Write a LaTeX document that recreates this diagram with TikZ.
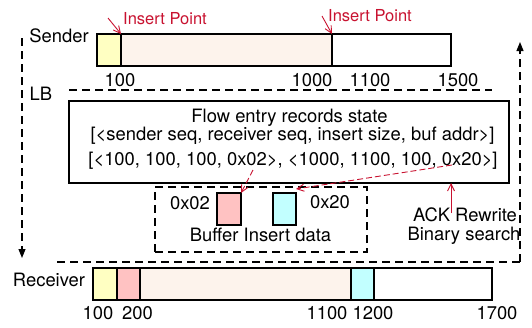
\documentclass[tikz,border=0pt]{standalone}
\usepackage{fontspec}
\setmainfont{TeX Gyre Heros}
\usepackage{xcolor}
\usepackage{tikz}
\usetikzlibrary{arrows.meta, positioning}
\definecolor{cellyellow}{RGB}{255,255,194}
\definecolor{cellpeach}{RGB}{253,243,236}
\definecolor{cellpink}{RGB}{255,194,194}
\definecolor{cellcyan}{RGB}{194,255,255}
\definecolor{markred}{RGB}{200,18,48}

\begin{document}
\begin{tikzpicture}[
        x=1pt, y=-1pt,
        every node/.style={font=\fontsize{18.4}{21}\selectfont},
        cell/.style={draw,line width=1.1pt,inner sep=0pt,outer sep=0pt,minimum height=32pt},
        box/.style={draw,line width=1.1pt,inner sep=0pt,outer sep=0pt},
        lbline/.style={line width=1.1pt,dash pattern=on 8pt off 5pt},
        hop/.style={lbline,-{Triangle[length=9pt,width=7pt]}},
        redarrow/.style={markred,line width=0.9pt,-{Straight Barb[length=7pt,width=7pt]}},
        reddash/.style={redarrow,dash pattern=on 6pt off 3pt},
        redtext/.style={text=markred,font=\fontsize{16.5}{19}\selectfont}
    ]
        \useasboundingbox (0,0) rectangle (532,327);

        % sender byte stream
        \node at (59,36) (sender) {Sender};
        \node[cell,fill=cellyellow,minimum width=24pt,anchor=north west] at (97,34) (s1) {};
        \node[cell,fill=cellpeach,minimum width=211pt,right=0pt of s1] (s2) {};
        \node[cell,fill=white,minimum width=119pt,right=0pt of s2] (s3) {};
        \node at (120,80) (s100) {100};
        \node at (312,80) (s1000) {1000};
        \node at (370,80) (s1100) {1100};
        \node at (458,80) (s1500) {1500};

        \node[redtext] at (165,19) (ins1) {Insert Point};
        \node[redtext] at (370,15.5) (ins2) {Insert Point};
        \coordinate (ins1tail) at (108,18);
        \coordinate (ins2tail) at (322,16);
        \draw[redarrow] (ins1tail) -- (s1.north east);
        \draw[redarrow] (ins2tail) -- (s2.north east);

        % load balancer
        \node at (41,94) (lb) {LB};
        \coordinate (lbtop1) at (69,90);
        \coordinate (lbtop2) at (492,90);
        \coordinate (lbbot1) at (57,262);
        \coordinate (lbbot2) at (520,262);
        \draw[lbline] (lbtop1) -- (lbtop2);
        \draw[lbline] (lbbot1) -- (lbbot2);

        \node[box,minimum width=440pt,minimum height=82pt,anchor=north west] at (69,101) (flow) {};
        \node at (289.5,118) (title) {Flow entry records state};
        \node at (292.5,136) (fields) {[<sender seq, receiver seq, insert size, buf addr>]};
        \node at (293,161) (entries) {[<100, 100, 100, 0x02>, <1000, 1100, 100, 0x20>]};

        \node[box,dash pattern=on 8pt off 5pt,minimum width=212pt,minimum height=65pt,anchor=north west] at (155,187) (buf) {};
        \node[box,fill=cellpink,minimum width=24pt,minimum height=32pt,anchor=north west] at (217,193) (b02) {};
        \node[box,fill=cellcyan,minimum width=23pt,minimum height=32pt,anchor=north west] at (273,193) (b20) {};
        \node at (190,203.5) (l02) {0x02};
        \node at (330,202) (l20) {0x20};
        \node at (260.5,235) (bufname) {Buffer Insert data};

        \coordinate (e02) at (253,170);
        \coordinate (e20) at (452,165);
        \draw[reddash] (e02) -- (b02.north east);
        \draw[reddash] (e20) -- ([yshift=4pt]b20.north east);

        \coordinate (acktail) at (451,213);
        \draw[redarrow] (acktail) -- (flow.south -| acktail);
        \node at (465,215) (ack) {ACK Rewrite};
        \node at (464,236) (search) {Binary search};

        % receiver byte stream
        \node at (49,280) (receiver) {Receiver};
        \node[cell,fill=cellyellow,minimum width=24pt,anchor=north west] at (93,268) (r1) {};
        \node[cell,fill=cellpink,minimum width=23pt,right=0pt of r1] (r2) {};
        \node[cell,fill=cellpeach,minimum width=211pt,right=0pt of r2] (r3) {};
        \node[cell,fill=cellcyan,minimum width=23pt,right=0pt of r3] (r4) {};
        \node[cell,fill=white,minimum width=118pt,right=0pt of r4] (r5) {};
        \node at (98,313) (r100) {100};
        \node at (137.5,313) (r200) {200};
        \node at (327,313) (r1100) {1100};
        \node at (373,313) (r1200) {1200};
        \node at (497,313) (r1700) {1700};

        % packet direction
        \coordinate (down1) at (22,38);
        \coordinate (down2) at (22,258);
        \coordinate (up1) at (520,262);
        \coordinate (up2) at (520,42);
        \draw[hop] (down1) -- (down2);
        \draw[hop] (up1) -- (up2);
    \end{tikzpicture}
\end{document}
